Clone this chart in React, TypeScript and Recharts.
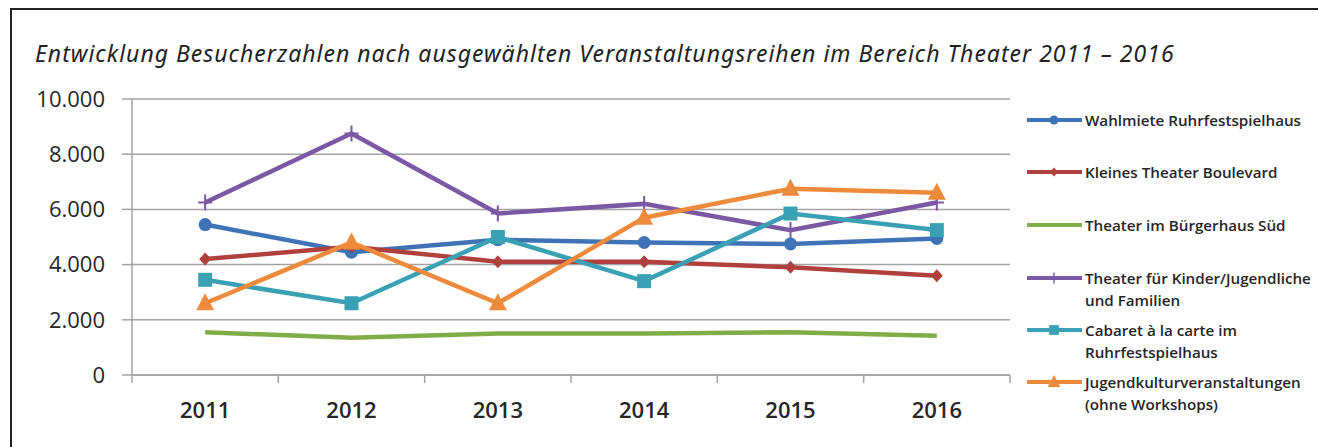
import { LineChart, Line, XAxis, YAxis, CartesianGrid } from 'recharts'

const years = ['2011', '2012', '2013', '2014', '2015', '2016']
const wahlmiete = [5450, 4450, 4900, 4800, 4750, 4950]
const kleinesTheater = [4200, 4650, 4100, 4100, 3900, 3600]
const buergerhaus = [1550, 1350, 1500, 1500, 1550, 1420]
const kinderTheater = [6250, 8750, 5850, 6200, 5250, 6250]
const cabaret = [3450, 2600, 5000, 3400, 5850, 5250]
const jugendkultur = [2600, 4800, 2600, 5700, 6750, 6600]
const yTicks = [0, 2000, 4000, 6000, 8000, 10000]

type Shape = 'circle' | 'diamond' | 'none' | 'plus' | 'square' | 'triangle'

const series: { key: string; label: string[]; color: string; shape: Shape; values: number[] }[] = [
  { key: 'wahlmiete', label: ['Wahlmiete Ruhrfestspielhaus'], color: '#3f73b6', shape: 'circle', values: wahlmiete },
  { key: 'kleines', label: ['Kleines Theater Boulevard'], color: '#b0403c', shape: 'diamond', values: kleinesTheater },
  { key: 'buerger', label: ['Theater im Bürgerhaus Süd'], color: '#7fad48', shape: 'none', values: buergerhaus },
  { key: 'kinder', label: ['Theater für Kinder/Jugendliche', 'und Familien'], color: '#7b58a4', shape: 'plus', values: kinderTheater },
  { key: 'cabaret', label: ['Cabaret à la carte im', 'Ruhrfestspielhaus'], color: '#3aa0b4', shape: 'square', values: cabaret },
  { key: 'jugend', label: ['Jugendkulturveranstaltungen', '(ohne Workshops)'], color: '#ee8a3b', shape: 'triangle', values: jugendkultur },
]

const data = years.map((year, i) => {
  const row: Record<string, string | number> = { year }
  series.forEach((s) => (row[s.key] = s.values[i]))
  return row
})

const fmt = (v: number) => v.toLocaleString('de-DE')
const GRID = '#a3a3a3'
const TICK_MARGIN = 27

function marker(shape: Shape, color: string, cx: number, cy: number, key?: string | number) {
  switch (shape) {
    case 'circle':
      return <circle key={key} cx={cx} cy={cy} r={6.5} fill={color} />
    case 'diamond':
      return <path key={key} d={`M${cx},${cy - 6.5}L${cx + 6},${cy}L${cx},${cy + 6.5}L${cx - 6},${cy}Z`} fill={color} />
    case 'plus':
      return (
        <path key={key} d={`M${cx - 7},${cy}H${cx + 7}M${cx},${cy - 8}V${cy + 8}`} stroke={color} strokeWidth={2} fill="none" />
      )
    case 'square':
      return <rect key={key} x={cx - 7} y={cy - 7} width={14} height={14} fill={color} />
    case 'triangle':
      return <path key={key} d={`M${cx},${cy - 10}L${cx + 9},${cy + 7}L${cx - 9},${cy + 7}Z`} fill={color} />
    default:
      return <g key={key} />
  }
}

// year label plus the small tick marks that sit between the categories
function YearTick(props: any) {
  const { x, y, payload, index } = props
  const half = payload.offset ?? 0
  const axisY = y - TICK_MARGIN
  return (
    <g>
      <line x1={x - half} y1={axisY} x2={x - half} y2={axisY + 8} stroke={GRID} strokeWidth={1.5} />
      {index === years.length - 1 && (
        <line x1={x + half} y1={axisY} x2={x + half} y2={axisY + 8} stroke={GRID} strokeWidth={1.5} />
      )}
      <text x={x} y={y} dy="0.71em" textAnchor="middle" fill="#262626" fontSize={22} fontFamily="Open Sans" fontWeight={600}>
        {payload.value}
      </text>
    </g>
  )
}

function LegendBox() {
  const rows = [0, 52, 105, 158, 210, 262]
  return (
    <div
      style={{
        position: 'absolute',
        left: 1025,
        top: 109,
        width: 293,
        height: 310,
        fontFamily: 'Open Sans',
        fontWeight: 600,
        fontSize: 15.2,
        color: '#262626',
      }}
    >
      {series.map((s, i) => (
        <div key={s.key} style={{ position: 'absolute', left: 0, top: rows[i], display: 'flex', alignItems: 'flex-start', whiteSpace: 'nowrap' }}>
          <svg width={58} height={22} style={{ flexShrink: 0 }}>
            <line x1={2} y1={11} x2={57} y2={11} stroke={s.color} strokeWidth={4} />
            {s.shape !== 'none' && (
              <g transform="translate(29,11) scale(0.7) translate(-29,-11)">{marker(s.shape, s.color, 29, 11)}</g>
            )}
          </svg>
          <div style={{ lineHeight: '22px', marginLeft: 2 }}>
            {s.label.map((l) => (
              <div key={l}>{l}</div>
            ))}
          </div>
        </div>
      ))}
    </div>
  )
}

export default function App() {
  return (
    <div style={{ position: 'absolute', left: 0, top: 0, width: 1318, height: 447, background: '#fff', overflow: 'hidden' }}>
      <div style={{ position: 'absolute', left: 10, top: 8, width: 1308, height: 2, background: '#222' }} />
      <div style={{ position: 'absolute', left: 10, top: 8, width: 2, height: 439, background: '#222' }} />
      <div
        style={{
          position: 'absolute',
          left: 35,
          top: 37,
          fontFamily: 'Noto Sans',
          fontStyle: 'italic',
          fontSize: 23,
          letterSpacing: 1,
          color: '#222',
          whiteSpace: 'nowrap',
        }}
      >
        Entwicklung Besucherzahlen nach ausgewählten Veranstaltungsreihen im Bereich Theater 2011 – 2016
      </div>
      <div style={{ position: 'absolute', left: 0, top: 0 }}>
        <LineChart width={1318} height={447} data={data} margin={{ top: 99, right: 308, bottom: 0, left: 0 }}>
          <CartesianGrid vertical={false} stroke={GRID} strokeWidth={1.5} />
          <XAxis
            dataKey="year"
            scale="band"
            height={72}
            tickLine={false}
            tickSize={0}
            tickMargin={TICK_MARGIN}
            axisLine={{ stroke: GRID, strokeWidth: 1.5 }}
            tick={<YearTick />}
            interval={0}
          />
          <YAxis
            width={132}
            domain={[0, 10000]}
            ticks={yTicks}
            tickFormatter={fmt}
            tickSize={10}
            tickMargin={17}
            axisLine={{ stroke: GRID, strokeWidth: 1.5 }}
            tickLine={{ stroke: GRID, strokeWidth: 1.5 }}
            tick={{ fill: '#262626', fontSize: 22, fontFamily: 'Open Sans' }}
          />
          {series.map((s) => (
            <Line
              key={s.key}
              dataKey={s.key}
              name={s.label.join(' ')}
              stroke={s.color}
              strokeWidth={4.5}
              isAnimationActive={false}
              dot={(p: any) => marker(s.shape, s.color, p.cx, p.cy, p.index)}
              activeDot={false}
            />
          ))}
        </LineChart>
      </div>
      <LegendBox />
    </div>
  )
}
